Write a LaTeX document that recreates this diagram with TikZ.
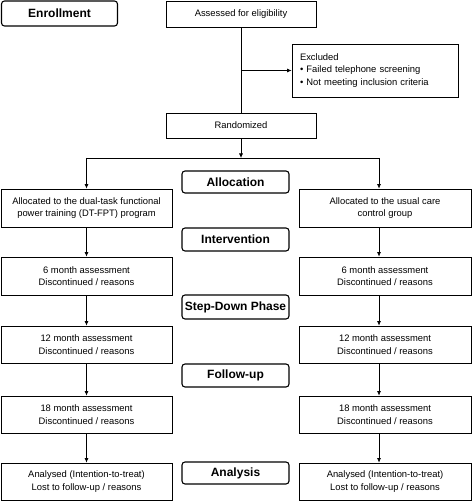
\documentclass[tikz,border=0pt]{standalone}
\usepackage{fontspec}
\setmainfont{Liberation Sans}
\usetikzlibrary{arrows.meta,calc}
\begin{document}
\begin{tikzpicture}[x=1pt,y=-1pt,
  box/.style={draw, line width=0.7pt, inner sep=0pt, align=center,
    font=\fontsize{9.4}{12.7}\selectfont},
  stage/.style={draw, line width=1.1pt, rounded corners=3pt, inner sep=0pt,
    font=\fontsize{12}{14}\selectfont\bfseries, minimum width=107pt},
  arr/.style={line width=0.7pt, -{Latex[length=4.5pt,width=4pt]}},
  ln/.style={line width=0.7pt}]
\useasboundingbox (0,0) rectangle (472,502);
% stage labels
\node[stage, minimum width=116pt, minimum height=25pt] (enroll) at (59.5,13.5) {Enrollment};
\node[stage, minimum height=22pt] (alloc) at (235.5,182) {Allocation};
\node[stage, minimum height=23pt] (interv) at (235.5,239.5) {Intervention};
\node[stage, minimum height=24pt] (step) at (235.5,307) {Step-Down Phase};
\node[stage, minimum height=23pt] (follow) at (235.5,375.5) {Follow-up};
\node[stage, minimum height=22pt] (analysis) at (235.5,473) {Analysis};
% top boxes
\node[box, minimum width=150pt, minimum height=26pt] (assess) at (241,14) {Assessed for eligibility};
\node[box, minimum width=166pt, minimum height=53pt, align=left, text width=150pt] (excl) at (375,70.5)
  {Excluded\\\textbullet\ Failed telephone screening\\\textbullet\ Not meeting inclusion criteria};
\node[box, minimum width=150pt, minimum height=25pt] (rand) at (241,125.5) {Randomized};
% left column
\node[box, minimum width=171pt, minimum height=38pt] (l1) at (86.5,208) {Allocated to the dual-task functional\\power training (DT-FPT) program};
\node[box, minimum width=171pt, minimum height=38pt] (l2) at (86.5,276) {6 month assessment\\Discontinued / reasons};
\node[box, minimum width=171pt, minimum height=37pt] (l3) at (86.5,344.5) {12 month assessment\\Discontinued / reasons};
\node[box, minimum width=171pt, minimum height=37pt] (l4) at (86.5,414.5) {18 month assessment\\Discontinued / reasons};
\node[box, minimum width=171pt, minimum height=37pt] (l5) at (86.5,481.5) {Analysed (Intention-to-treat)\\Lost to follow-up / reasons};
% right column
\node[box, minimum width=172pt, minimum height=38pt] (r1) at (385,208) {Allocated to the usual care\\control group};
\node[box, minimum width=172pt, minimum height=38pt] (r2) at (385,276) {6 month assessment\\Discontinued / reasons};
\node[box, minimum width=172pt, minimum height=37pt] (r3) at (385,344.5) {12 month assessment\\Discontinued / reasons};
\node[box, minimum width=172pt, minimum height=37pt] (r4) at (385,414.5) {18 month assessment\\Discontinued / reasons};
\node[box, minimum width=172pt, minimum height=37pt] (r5) at (385,481.5) {Analysed (Intention-to-treat)\\Lost to follow-up / reasons};
% coordinates
\coordinate (split) at (241,158);
\coordinate (lx) at (86.5,0);
\coordinate (rx) at (379,0);
\coordinate (branch) at (assess.south |- excl.west);
% connectors
\draw[ln] (assess.south) -- (rand.north);
\draw[arr] (branch) -- (excl.west);
\draw[arr] (rand.south) -- (split);
\draw[ln] (split -| lx) -- (split -| rx);
\draw[arr] (split -| lx) -- (l1.north);
\draw[arr] (split -| rx) -- (r1.north -| rx);
\foreach \a/\b in {l1/l2,l2/l3,l3/l4,l4/l5}{\draw[arr] (\a.south) -- (\b.north);}
\foreach \a/\b in {r1/r2,r2/r3,r3/r4,r4/r5}{\draw[arr] (\a.south -| rx) -- (\b.north -| rx);}
\end{tikzpicture}
\end{document}
